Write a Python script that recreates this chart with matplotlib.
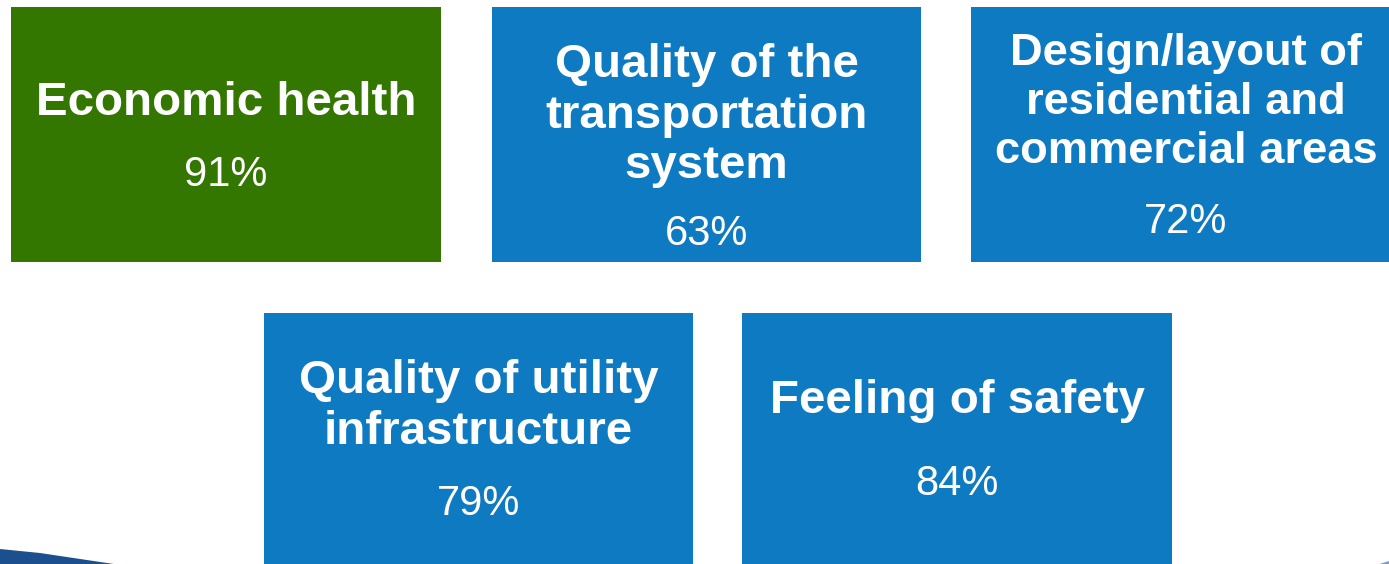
import matplotlib
matplotlib.use("Agg")
import matplotlib.pyplot as plt
from matplotlib.patches import Rectangle, Polygon

# ---- data ----
categories = [
    "Economic health",
    "Quality of the\ntransportation\nsystem",
    "Design/layout of\nresidential and\ncommercial areas",
    "Quality of utility\ninfrastructure",
    "Feeling of safety",
]
values = [91, 63, 72, 79, 84]
box_colors = ["#337700", "#0E7AC2", "#0E7AC2", "#0E7AC2", "#0E7AC2"]

# ---- layout (pixels) ----
W, H = 1389, 564
box_x = [11, 492, 971, 264, 742]
box_y = [7, 7, 7, 313, 313]
box_w = [430, 429, 430, 429, 430]
box_h = [255, 255, 255, 260, 260]
title_base = [115, 77, 65, 393, 413]
pct_base = [186, 245, 233, 515, 495]
title_size = [34.2, 34.2, 32.6, 34.2, 34.2]
line_step = [50.5, 50.5, 49, 50.5, 50.5]

fig = plt.figure(figsize=(W / 100, H / 100), dpi=100)
ax = fig.add_axes([0, 0, 1, 1])
ax.set_xlim(0, W)
ax.set_ylim(H, 0)
ax.axis("off")

font = "Liberation Sans"

for i, (cat, val, col) in enumerate(zip(categories, values, box_colors)):
    ax.add_patch(Rectangle((box_x[i], box_y[i]), box_w[i], box_h[i],
                           facecolor=col, edgecolor="none", clip_on=True))
    cx = box_x[i] + box_w[i] / 2
    for j, line in enumerate(cat.split("\n")):
        ax.text(cx, title_base[i] + j * line_step[i], line, ha="center",
                va="baseline", color="white", fontsize=title_size[i],
                fontweight="bold", family=font)
    ax.text(cx, pct_base[i], f"{val}%", ha="center", va="baseline",
            color="white", fontsize=30, family=font)

# decorative swoosh at lower left
ax.add_patch(Polygon([(0, 549), (40, 553), (117, 564.5), (0, 564.5)],
                     closed=True, facecolor="#1B4F8E", edgecolor="none"))
ax.add_patch(Polygon([(1378, 564.5), (1389, 561), (1389, 564.5)],
                     closed=True, facecolor="#7F9DBE", edgecolor="none"))

fig.savefig("out.png", dpi=100)
